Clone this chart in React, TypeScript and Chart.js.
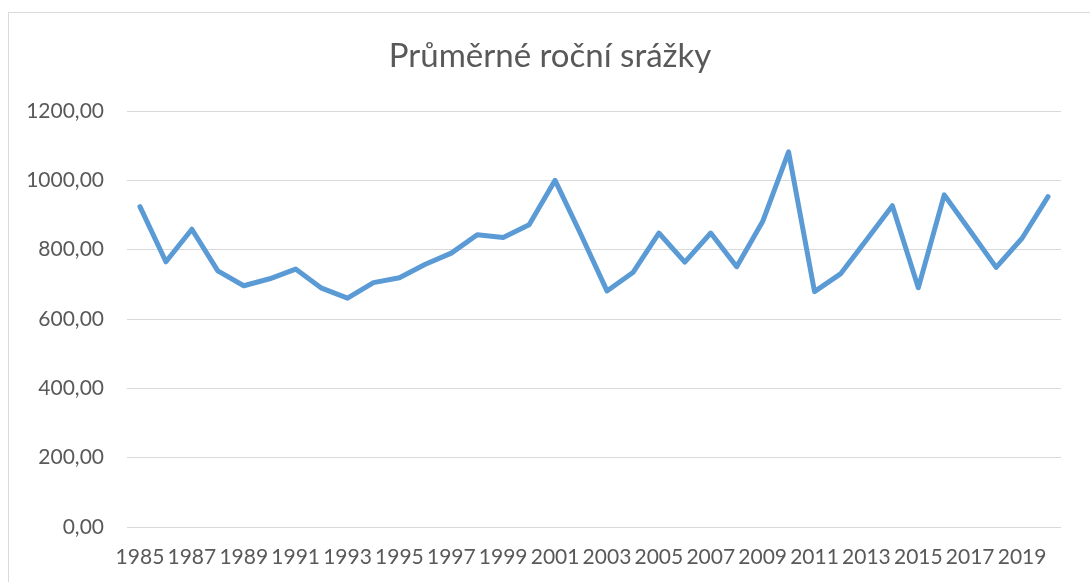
import React, { useEffect, useRef } from "react";
import { Chart, registerables } from "chart.js";

Chart.register(...registerables);

const years: string[] = [
  "1985", "1986", "1987", "1988", "1989", "1990", "1991", "1992", "1993", "1994",
  "1995", "1996", "1997", "1998", "1999", "2000", "2001", "2002", "2003", "2004",
  "2005", "2006", "2007", "2008", "2009", "2010", "2011", "2012", "2013", "2014",
  "2015", "2016", "2017", "2018", "2019", "2020",
];

const precipitation: number[] = [
  924, 765, 859, 739, 696, 716, 744, 689, 660, 705,
  719, 758, 790, 843, 835, 872, 1000, 843, 681, 734,
  848, 764, 848, 751, 881, 1082, 679, 730, 828, 927,
  690, 958, 854, 749, 833, 953,
];

const titleText = "Průměrné roční srážky";
const yMin = 0;
const yMax = 1200;
const yStep = 200;

const TEXT = "#595959";
const GRID = "#d9d9d9";
const LINE = "#5b9bd5";
const FONT = "Lato, 'Noto Sans', sans-serif";

const frame = {
  id: "frame",
  beforeDraw(chart: any) {
    const ctx = chart.ctx;
    ctx.save();
    ctx.strokeStyle = GRID;
    ctx.lineWidth = 1;
    ctx.strokeRect(8.5, 12.5, 3000, 3000);
    ctx.restore();
  },
};

export default function App() {
  const ref = useRef<HTMLCanvasElement | null>(null);

  useEffect(() => {
    if (!ref.current) return;
    const chart = new Chart(ref.current, {
      type: "line",
      data: {
        labels: years,
        datasets: [
          {
            label: titleText,
            data: precipitation,
            yAxisID: "y",
            borderColor: LINE,
            backgroundColor: LINE,
            borderWidth: 5,
            pointRadius: 0,
            pointHoverRadius: 0,
            tension: 0,
            borderJoinStyle: "round",
            borderCapStyle: "round",
            fill: false,
          },
        ],
      },
      options: {
        animation: false,
        responsive: false,
        maintainAspectRatio: false,
        layout: { padding: { left: 10, right: 0, top: 0, bottom: 0 } },
        plugins: {
          legend: { display: false },
          tooltip: { enabled: false },
          title: {
            display: true,
            text: titleText,
            color: TEXT,
            font: { family: FONT, size: 33, weight: "normal" },
            padding: { top: 37, bottom: 34.4 },
          },
        },
        scales: {
          x: {
            offset: true,
            grid: { display: false, drawTicks: false },
            border: { display: false },
            ticks: {
              autoSkip: false,
              maxRotation: 0,
              minRotation: 0,
              padding: 17.4,
              color: TEXT,
              font: { family: FONT, size: 21 },
              callback: function (this: any, _v: any, i: number) {
                return i % 2 === 0 ? years[i] : "";
              },
            },
            afterFit(scale: any) {
              scale.height = 55;
            },
          },
          y: {
            position: "left",
            min: yMin,
            max: yMax,
            grid: { color: GRID, lineWidth: 1, drawTicks: false },
            border: { display: false },
            ticks: {
              stepSize: yStep,
              padding: 23,
              color: TEXT,
              font: { family: FONT, size: 21 },
              callback: (v: any) => Number(v).toFixed(2).replace(".", ","),
            },
            afterFit(scale: any) {
              scale.width = 117;
            },
          },
          spacer: {
            type: "linear",
            position: "right",
            display: true,
            grid: { display: false, drawTicks: false },
            border: { display: false },
            ticks: { display: false },
            afterFit(scale: any) {
              scale.width = 29;
            },
          },
        },
      },
      plugins: [frame],
    });
    return () => chart.destroy();
  }, []);

  return (
    <div style={{ position: "fixed", left: 0, top: 0, width: 1090, height: 582, background: "#fff" }}>
      <canvas ref={ref} width={1090} height={582} style={{ display: "block" }} />
    </div>
  );
}
